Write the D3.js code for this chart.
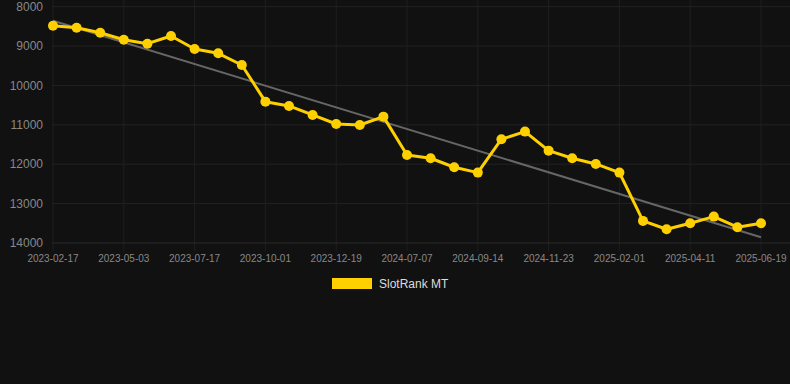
<!DOCTYPE html>
<html>
<head>
<meta charset="utf-8">
<script src="https://cdn.jsdelivr.net/npm/d3@7"></script>
<style>
  html, body { margin: 0; padding: 0; background: #111111; }
  svg { display: block; font-family: Arial, "Liberation Sans", sans-serif; }
</style>
</head>
<body>
<div id="chart"></div>
<script>
const width = 790;
const height = 384;

// rank values, one per snapshot (lower on the chart = worse rank)
const rankValues = [
  8482, 8533, 8660, 8838, 8939, 8744, 9074, 9183, 9480, 10411,
  10520, 10749, 10978, 11003, 10792, 11764, 11848, 12076, 12213, 11365,
  11172, 11655, 11848, 11992, 12213, 13439, 13650, 13497, 13330, 13599,
  13497
];
// dates shown under every third snapshot
const tickLabels = [
  "2023-02-17", "2023-05-03", "2023-07-17", "2023-10-01", "2023-12-19",
  "2024-07-07", "2024-09-14", "2024-11-23", "2025-02-01", "2025-04-11",
  "2025-06-19"
];
const yTicks = [8000, 9000, 10000, 11000, 12000, 13000, 14000];
// trend line start and end values
const trendValues = [8355, 13855];
const seriesName = "SlotRank MT";

const plotLeft = 53, plotRight = 761, plotTop = 6.7, plotBottom = 243;

const svg = d3.select("#chart")
  .append("svg")
  .attr("width", width)
  .attr("height", height);

svg.append("rect")
  .attr("width", width)
  .attr("height", height)
  .attr("fill", "#111111");

const idx = d3.range(rankValues.length);

const x = d3.scalePoint()
  .domain(idx)
  .range([plotLeft, plotRight]);

const y = d3.scaleLinear()
  .domain([8000, 14000])
  .range([plotTop, plotBottom]);

const tickIdx = idx.filter(i => i % 3 === 0);

// vertical grid
svg.selectAll(".vgrid")
  .data(tickIdx)
  .enter()
  .append("line")
  .attr("x1", d => x(d))
  .attr("x2", d => x(d))
  .attr("y1", 0)
  .attr("y2", plotBottom + 8)
  .attr("stroke", "#1f1f1f")
  .attr("stroke-width", 1);

// horizontal grid
svg.selectAll(".hgrid")
  .data(yTicks)
  .enter()
  .append("line")
  .attr("x1", plotLeft - 1)
  .attr("x2", width)
  .attr("y1", d => y(d))
  .attr("y2", d => y(d))
  .attr("stroke", d => d === 14000 ? "#2a2a2a" : "#222222")
  .attr("stroke-width", 1);

// y labels
svg.selectAll(".ylab")
  .data(yTicks)
  .enter()
  .append("text")
  .attr("x", 43)
  .attr("y", d => y(d))
  .attr("dy", "0.35em")
  .attr("text-anchor", "end")
  .attr("font-size", "12px")
  .attr("fill", "#888888")
  .text(d => d);

// x labels
svg.selectAll(".xlab")
  .data(tickIdx)
  .enter()
  .append("text")
  .attr("x", d => x(d))
  .attr("y", 262)
  .attr("text-anchor", "middle")
  .attr("font-size", "10px")
  .attr("fill", "#888888")
  .text((d, i) => tickLabels[i]);

// trend line
svg.append("line")
  .attr("x1", x(0))
  .attr("x2", x(idx.length - 1))
  .attr("y1", y(trendValues[0]))
  .attr("y2", y(trendValues[1]))
  .attr("stroke", "#666666")
  .attr("stroke-width", 2);

const line = d3.line()
  .x((d, i) => x(i))
  .y(d => y(d));

svg.append("path")
  .datum(rankValues)
  .attr("d", line)
  .attr("fill", "none")
  .attr("stroke", "#FFD000")
  .attr("stroke-width", 3)
  .attr("stroke-linejoin", "round");

svg.selectAll(".pt")
  .data(rankValues)
  .enter()
  .append("circle")
  .attr("cx", (d, i) => x(i))
  .attr("cy", d => y(d))
  .attr("r", 5)
  .attr("fill", "#FFD000");

// legend
const legend = svg.append("g");
legend.append("rect")
  .attr("x", 332)
  .attr("y", 278)
  .attr("width", 40)
  .attr("height", 11)
  .attr("fill", "#FFD000");
legend.append("text")
  .attr("x", 379)
  .attr("y", 288)
  .attr("font-size", "12px")
  .attr("fill", "#dddddd")
  .text(seriesName);
</script>
</body>
</html>
